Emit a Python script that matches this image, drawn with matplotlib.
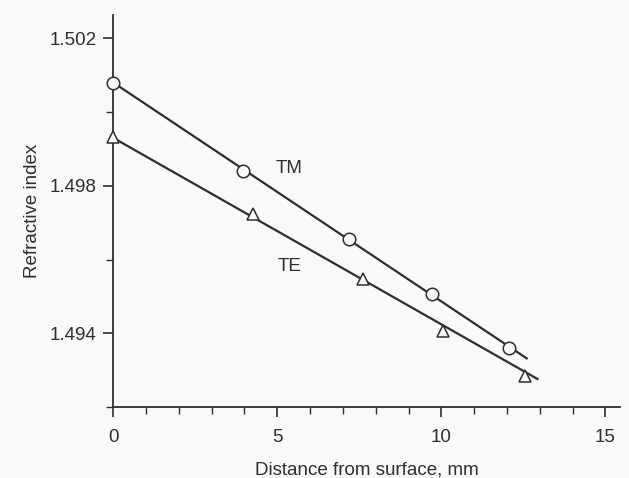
import matplotlib.pyplot as plt
from matplotlib.ticker import MultipleLocator

plt.rcParams['font.family'] = ['Liberation Sans', 'DejaVu Sans']

# measured points
tm_x = [0.0, 3.96, 7.2, 9.7, 12.05]
tm_y = [1.5008, 1.49841, 1.49656, 1.49506, 1.49359]
te_x = [0.0, 4.27, 7.62, 10.06, 12.56]
te_y = [1.49931, 1.49724, 1.49547, 1.49405, 1.49283]

# fitted straight lines (end points)
tm_fit_x = [0.0, 12.6]
tm_fit_y = [1.5008, 1.49332]
te_fit_x = [0.0, 12.93]
te_fit_y = [1.4993, 1.49276]

ink = '#2e2e2e'
bg = '#f9f9f7'

fig = plt.figure(figsize=(6.29, 4.78), dpi=100)
fig.patch.set_facecolor(bg)
ax = fig.add_axes([0.18, 0.1485, 0.806, 0.82])
ax.set_facecolor(bg)

ax.plot(tm_fit_x, tm_fit_y, color=ink, lw=1.6, clip_on=False)
ax.plot(te_fit_x, te_fit_y, color=ink, lw=1.6, clip_on=False)
ax.plot(tm_x, tm_y, 'o', ms=9, mfc=bg, mec=ink, mew=1.1, clip_on=False, zorder=3)
ax.plot(te_x, te_y, '^', ms=8.5, mfc=bg, mec=ink, mew=1.1, clip_on=False, zorder=3)

ax.text(4.95, 1.49848, 'TM', fontsize=13.5, color=ink, va='center')
ax.text(5.0, 1.49582, 'TE', fontsize=13.5, color=ink, va='center')

ax.set_xlim(0, 15.45)
ax.set_ylim(1.492, 1.50263)

ax.xaxis.set_major_locator(MultipleLocator(5))
ax.xaxis.set_minor_locator(MultipleLocator(1))
ax.yaxis.set_minor_locator(MultipleLocator(0.002))
ax.set_yticks([1.494, 1.498, 1.502])
ax.yaxis.set_major_formatter(plt.FuncFormatter(lambda v, p: '%.3f' % v))

for s in ['top', 'right']:
    ax.spines[s].set_visible(False)
for s in ['left', 'bottom']:
    ax.spines[s].set_color(ink)
    ax.spines[s].set_linewidth(1.3)

ax.tick_params(which='major', length=7, width=1.2, color=ink, labelsize=13.5, labelcolor=ink)
ax.tick_params(axis='x', which='major', pad=9)
ax.tick_params(axis='y', which='major', pad=5)
ax.tick_params(which='minor', length=5, width=1.0, color=ink)

ax.set_xlabel('Distance from surface, mm', fontsize=13.5, color=ink, labelpad=11)
ax.set_ylabel('Refractive index', fontsize=13.5, color=ink, labelpad=6)

fig.savefig('out.png', dpi=100, facecolor=fig.get_facecolor())
